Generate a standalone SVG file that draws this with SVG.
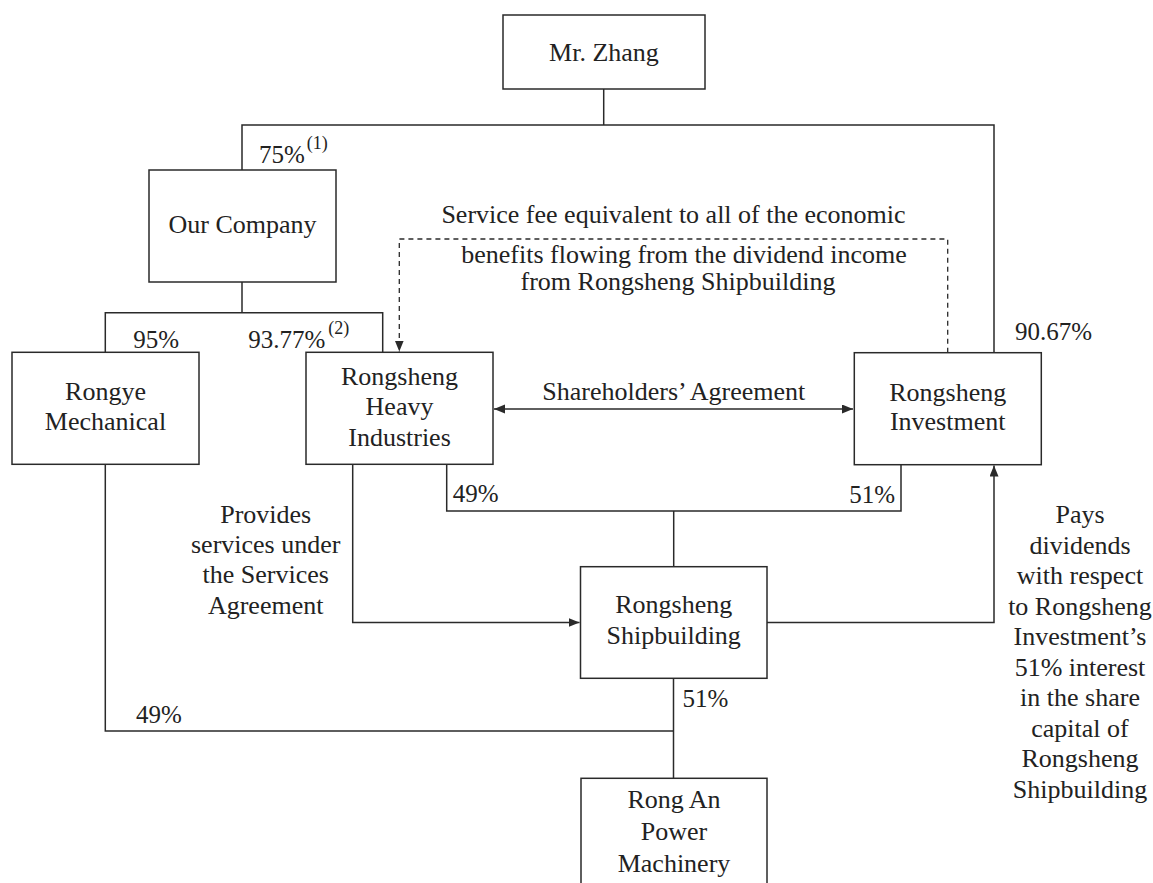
<svg xmlns="http://www.w3.org/2000/svg" width="1153" height="883" viewBox="0 0 1153 883">
<style>
  .box { fill: #ffffff; stroke: #2a2a2a; stroke-width: 1.5; }
  .ln { fill: none; stroke: #2a2a2a; stroke-width: 1.5; }
  .dash { fill: none; stroke: #2a2a2a; stroke-width: 1.3; stroke-dasharray: 5 4; }
  text { font-family: "Liberation Serif", "Times New Roman", serif; fill: #222; }
  .t { font-size: 26px; text-anchor: middle; }
  .p { font-size: 25px; }
  .s { font-size: 18px; }
</style>
<defs>
  <marker id="arr" markerUnits="userSpaceOnUse" markerWidth="12" markerHeight="10" refX="11" refY="4.5" orient="auto-start-reverse">
    <path d="M0,0 L11,4.5 L0,9 z" fill="#2a2a2a"/>
  </marker>
</defs>

<g id="connectors">
  <path class="ln" d="M603.7,89 V125"/>
  <path class="ln" d="M242,170 V125 H994 V353"/>
  <path class="ln" d="M242,282 V312.7"/>
  <path class="ln" d="M105.3,352 V312.7 H382.7 V352"/>
  <path class="ln" d="M105.3,464 V731 H673.5"/>
  <path class="ln" d="M446.7,464 V511 H901 V465"/>
  <path class="ln" d="M673.7,511 V566.7"/>
  <path class="ln" d="M673.5,678.3 V778.3"/>
  <path class="ln" d="M352.7,464 V622.5 H579.5" marker-end="url(#arr)"/>
  <path class="ln" d="M767,622.5 H994 V465.5" marker-end="url(#arr)"/>
  <path class="ln" d="M494,409 H853" marker-start="url(#arr)" marker-end="url(#arr)"/>
  <path class="dash" d="M947.7,352.7 V239 H399.3 V351.5" marker-end="url(#arr)"/>
</g>

<g id="labels">
  <text class="p" x="259" y="163.3">75%</text>
  <text class="s" x="306.7" y="149">(1)</text>
  <text class="p" x="133.3" y="347.7">95%</text>
  <text class="p" x="248.3" y="347.7">93.77%</text>
  <text class="s" x="328.3" y="334">(2)</text>
  <text class="p" x="1015" y="340">90.67%</text>
  <text class="p" x="452.7" y="502.3">49%</text>
  <text class="p" x="849.3" y="502.7">51%</text>
  <text class="p" x="682.4" y="706.7">51%</text>
  <text class="p" x="136" y="723.3">49%</text>
  <text class="t" x="673.5" y="222.7">Service fee equivalent to all of the economic</text>
  <text class="t" x="684" y="263.3">benefits flowing from the dividend income</text>
  <text class="t" x="678" y="290">from Rongsheng Shipbuilding</text>
  <text class="t" x="673.8" y="400">Shareholders’ Agreement</text>
  <text class="t" x="265.7" y="523.3">Provides</text>
  <text class="t" x="265.7" y="553">services under</text>
  <text class="t" x="265.7" y="583.3">the Services</text>
  <text class="t" x="265.7" y="614">Agreement</text>
  <text class="t" x="1080" y="523.3">Pays</text>
  <text class="t" x="1080" y="553.8">dividends</text>
  <text class="t" x="1080" y="584.3">with respect</text>
  <text class="t" x="1080" y="614.8">to Rongsheng</text>
  <text class="t" x="1080" y="645.3">Investment’s</text>
  <text class="t" x="1080" y="675.8">51% interest</text>
  <text class="t" x="1080" y="706.3">in the share</text>
  <text class="t" x="1080" y="736.8">capital of</text>
  <text class="t" x="1080" y="767.3">Rongsheng</text>
  <text class="t" x="1080" y="797.8">Shipbuilding</text>
</g>

<g id="mr-zhang">
  <rect class="box" x="503" y="15" width="202" height="74"/>
  <text class="t" x="604" y="61">Mr. Zhang</text>
</g>
<g id="our-company">
  <rect class="box" x="149" y="170" width="187" height="112"/>
  <text class="t" x="242.5" y="233.3">Our Company</text>
</g>
<g id="rongye-mechanical">
  <rect class="box" x="12" y="352.3" width="187" height="112"/>
  <text class="t" x="105.5" y="400">Rongye</text>
  <text class="t" x="105.5" y="430">Mechanical</text>
</g>
<g id="rongsheng-heavy-industries">
  <rect class="box" x="306" y="352.3" width="187" height="112"/>
  <text class="t" x="399.5" y="385">Rongsheng</text>
  <text class="t" x="399.5" y="415">Heavy</text>
  <text class="t" x="399.5" y="445.7">Industries</text>
</g>
<g id="rongsheng-investment">
  <rect class="box" x="854.3" y="352.7" width="187" height="112"/>
  <text class="t" x="947.7" y="400.7">Rongsheng</text>
  <text class="t" x="947.7" y="430">Investment</text>
</g>
<g id="rongsheng-shipbuilding">
  <rect class="box" x="580.5" y="566.7" width="186.5" height="111.6"/>
  <text class="t" x="673.7" y="613.3">Rongsheng</text>
  <text class="t" x="673.7" y="644">Shipbuilding</text>
</g>
<g id="rong-an-power-machinery">
  <rect class="box" x="581" y="778.3" width="186" height="120"/>
  <text class="t" x="674" y="808.3">Rong An</text>
  <text class="t" x="674" y="840">Power</text>
  <text class="t" x="674" y="871.7">Machinery</text>
</g>
</svg>
